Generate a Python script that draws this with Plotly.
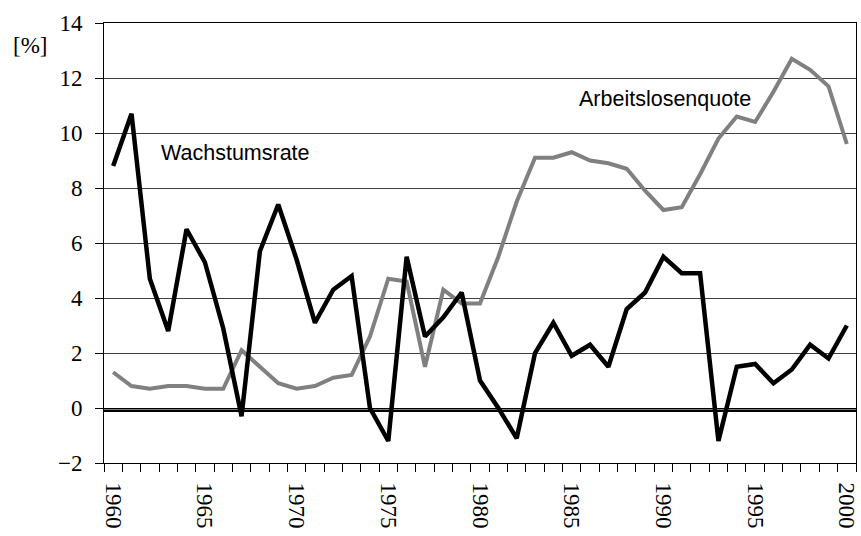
import plotly.graph_objects as go

years = list(range(1960, 2001))

wachstumsrate = [8.8, 10.7, 4.7, 2.8, 6.5, 5.3, 2.9, -0.3, 5.7, 7.4,
                 5.4, 3.1, 4.3, 4.8, 0.0, -1.2, 5.5, 2.6, 3.3, 4.2,
                 1.0, 0.0, -1.1, 2.0, 3.1, 1.9, 2.3, 1.5, 3.6, 4.2,
                 5.5, 4.9, 4.9, -1.2, 1.5, 1.6, 0.9, 1.4, 2.3, 1.8,
                 3.0]

arbeitslosenquote = [1.3, 0.8, 0.7, 0.8, 0.8, 0.7, 0.7, 2.1, 1.5, 0.9,
                     0.7, 0.8, 1.1, 1.2, 2.6, 4.7, 4.6, 1.5, 4.3, 3.8,
                     3.8, 5.5, 7.5, 9.1, 9.1, 9.3, 9.0, 8.9, 8.7, 7.9,
                     7.2, 7.3, 8.5, 9.8, 10.6, 10.4, 11.5, 12.7, 12.3, 11.7,
                     9.6]

x_ticks = [1960, 1965, 1970, 1975, 1980, 1985, 1990, 1995, 2000]
y_ticks = [-2, 0, 2, 4, 6, 8, 10, 12, 14]

serif = "Liberation Serif, Times New Roman, serif"
sans = "Liberation Sans, Arial, sans-serif"

fig = go.Figure()

fig.add_trace(go.Scatter(
    x=years, y=arbeitslosenquote, mode="lines",
    line=dict(color="rgb(128,128,128)", width=4),
    name="Arbeitslosenquote"))

fig.add_trace(go.Scatter(
    x=years, y=wachstumsrate, mode="lines",
    line=dict(color="black", width=4.5),
    name="Wachstumsrate"))

# thick base line just under zero
fig.add_shape(type="line", xref="paper", x0=0, x1=1, yref="y", y0=-0.1, y1=-0.1,
              line=dict(color="black", width=2.5), layer="below")

fig.add_annotation(text="Wachstumsrate", x=1962.5, y=9.27, xref="x", yref="y",
                   showarrow=False, xanchor="left",
                   font=dict(family=sans, size=21.5, color="black"))
fig.add_annotation(text="Arbeitslosenquote", x=1994.9, y=11.24, xref="x", yref="y",
                   showarrow=False, xanchor="right",
                   font=dict(family=sans, size=21.5, color="black"))
fig.add_annotation(text="[%]", x=-0.098, y=0.95, xref="paper", yref="paper",
                   showarrow=False, xanchor="center", yanchor="middle",
                   font=dict(family=serif, size=23, color="black"))

fig.update_xaxes(
    range=[1959.5, 2000.5],
    tickvals=x_ticks, ticktext=[str(v) for v in x_ticks],
    tickangle=90, ticks="", ticklen=0,
    minor=dict(tick0=1959.5, dtick=1, ticks="outside", ticklen=8,
               tickcolor="black", tickwidth=1, showgrid=False),
    showline=True, linecolor="black", linewidth=1, mirror=True,
    showgrid=False, zeroline=False,
    tickfont=dict(family=serif, size=23, color="black"),
    ticklabelstandoff=14, ticklabeloverflow="allow")

fig.update_yaxes(
    range=[-2, 14], tickvals=y_ticks,
    ticks="outside", ticklen=8, tickcolor="black",
    showline=True, linecolor="black", linewidth=1, mirror=True,
    showgrid=True, gridcolor="#404040", gridwidth=1,
    zeroline=True, zerolinecolor="black", zerolinewidth=1,
    tickfont=dict(family=serif, size=23, color="black"),
    ticklabelstandoff=8)

fig.update_layout(
    width=861, height=536,
    margin=dict(l=104, r=2, t=23, b=73),
    plot_bgcolor="white", paper_bgcolor="white",
    showlegend=False)

# drop the default 8px body margin so the figure fills the window
fig.write_html("out.html", config={"displayModeBar": False},
               post_script="document.body.style.margin='0';")
